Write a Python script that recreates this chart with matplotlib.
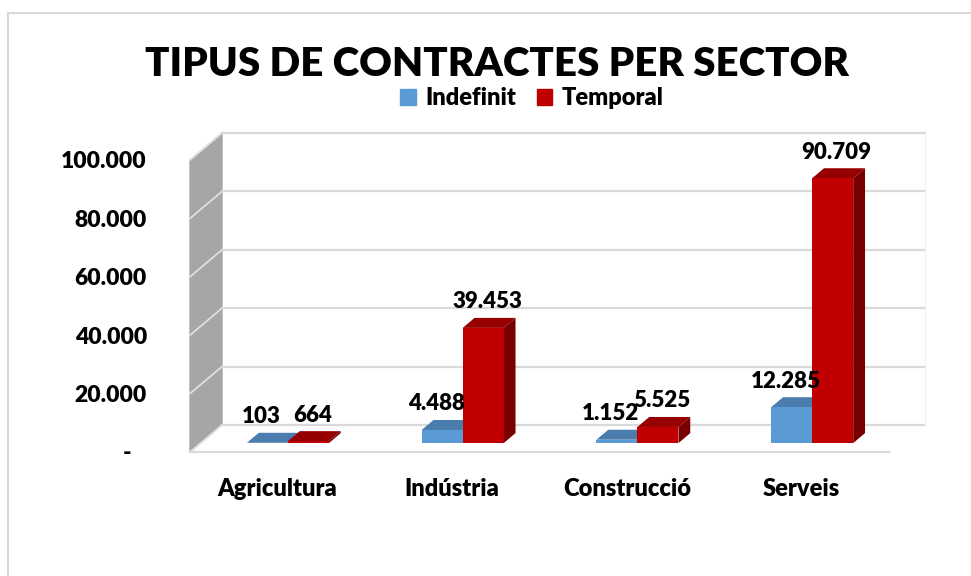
import matplotlib.pyplot as plt
import matplotlib.patches as mpatches
import numpy as np

# ── Data ─────────────────────────────────────────────────────────────────────
sectors = ["Agricultura", "Indústria", "Construcció", "Serveis"]
indefinit = [103, 4488, 1152, 12285]
temporal = [664, 39453, 5525, 90709]
yticks = [0, 20000, 40000, 60000, 80000, 100000]

# ── Style ────────────────────────────────────────────────────────────────────
plt.rcParams["font.family"] = ["Lato", "DejaVu Sans"]
WEIGHT = "heavy"

BLUE = ("#5B9BD5", "#4A7DAE", "#3F6D99")     # front, top, side
RED = ("#C00000", "#960000", "#780000")
GRID = "#D9D9D9"

W, H, DPI = 971, 576, 100
fig = plt.figure(figsize=(W / DPI, H / DPI), dpi=DPI)
fig.patch.set_facecolor("white")

# front plane of the 3D box, in pixels
X0, X1, Y0, Y1 = 190, 889, 452, 160
ax = fig.add_axes([X0 / W, 1 - Y0 / H, (X1 - X0) / W, (Y0 - Y1) / H])
ax.set_xlim(-0.5, 3.5)
ax.set_ylim(0, 100000)
ax.patch.set_alpha(0)
for s in ax.spines.values():
    s.set_visible(False)

# depth offset (pixels for full depth) converted to data units
px_x = (X1 - X0) / 4.0
px_y = (Y0 - Y1) / 100000.0
DX = 32 / px_x
DY = 27 / px_y

# ── Walls ────────────────────────────────────────────────────────────────────
ax.fill([-0.5, -0.5 + DX, -0.5 + DX, -0.5],
        [0, DY, 100000 + DY, 100000],
        color="#A6A6A6", zorder=1, clip_on=False)
for v in yticks:
    ax.plot([-0.5, -0.5 + DX], [v, v + DY], color="#E3E3E3", lw=1.2,
            zorder=1.5, clip_on=False)
    ax.plot([-0.5 + DX, 3.5 + DX * 1.12], [v + DY, v + DY], color=GRID,
            lw=1.6, zorder=1.5, clip_on=False)
ax.plot([3.5 + DX * 1.12] * 2, [DY, 100000 + DY], color="#F0F0F0", lw=0.8,
        zorder=1.5, clip_on=False)
ax.plot([-0.5, 3.5], [0, 0], color=GRID, lw=1.6, zorder=1.5, clip_on=False)

# ── Bars ─────────────────────────────────────────────────────────────────────
x = np.arange(len(sectors))
bw = 41 / px_x
d0, d1 = 0.33, 0.70
ox0, oy0 = DX * d0, DY * d0
ox1, oy1 = DX * d1, DY * d1


def bar3d(xs, vals, cols, z):
    ax.bar(xs + ox0, vals, width=bw, bottom=oy0, color=cols[0],
           zorder=z + 0.2, clip_on=False, linewidth=0)
    for xc, v in zip(xs, vals):
        l, r = xc - bw / 2, xc + bw / 2
        top = v + oy0
        ax.fill([l + ox0, r + ox0, r + ox1, l + ox1],
                [top, top, v + oy1, v + oy1],
                color=cols[1], zorder=z, clip_on=False, linewidth=0)
        ax.fill([r + ox0, r + ox1, r + ox1, r + ox0],
                [oy0, oy1, v + oy1, top],
                color=cols[2], zorder=z, clip_on=False, linewidth=0)


bar3d(x - bw / 2, indefinit, BLUE, 3)
bar3d(x + bw / 2, temporal, RED, 4)


def fmt(v):
    return f"{v:,}".replace(",", ".")


lab_dy = 26 / px_y
for xc, v in zip(x - bw / 2, indefinit):
    ax.text(xc + ox0 - 6 / px_x, v + oy0 + lab_dy, fmt(v), ha="center",
            va="center", fontsize=16, fontweight=WEIGHT, color="black",
            zorder=6, clip_on=False)
for xc, v in zip(x + bw / 2, temporal):
    ax.text(xc + ox0 + 4 / px_x, v + oy0 + lab_dy, fmt(v), ha="center",
            va="center", fontsize=16, fontweight=WEIGHT, color="black",
            zorder=6, clip_on=False)

# ── Axes labels ──────────────────────────────────────────────────────────────
ax.set_yticks(yticks)
ax.set_yticklabels(["-   " if v == 0 else fmt(v) for v in yticks],
                   fontsize=16.5, fontweight=WEIGHT)
ax.set_xticks(x)
ax.set_xticklabels(sectors, fontsize=17, fontweight=WEIGHT)
ax.tick_params(axis="y", length=0, pad=31)
ax.tick_params(axis="x", length=0, pad=19)

# ── Title & legend ───────────────────────────────────────────────────────────
fig.text(497 / W, 1 - 65 / H, "TIPUS DE CONTRACTES PER SECTOR",
         ha="center", va="center", fontsize=29, fontweight=WEIGHT)
handles = [mpatches.Patch(color=BLUE[0], label="Indefinit"),
           mpatches.Patch(color=RED[0], label="Temporal")]
fig.legend(handles=handles, loc="center", bbox_to_anchor=(532 / W, 1 - 98 / H),
           ncol=2, frameon=False, prop={"size": 17, "weight": WEIGHT},
           handlelength=0.65, handleheight=0.65, handletextpad=0.4,
           columnspacing=0.9)

# chart border
fig.patches.append(mpatches.Rectangle((8 / W, -0.1), 1.2, 1.1 - 13 / H,
                                      transform=fig.transFigure, fill=False,
                                      edgecolor=GRID, lw=1.5))

fig.savefig("out.png", dpi=DPI, facecolor="white")
